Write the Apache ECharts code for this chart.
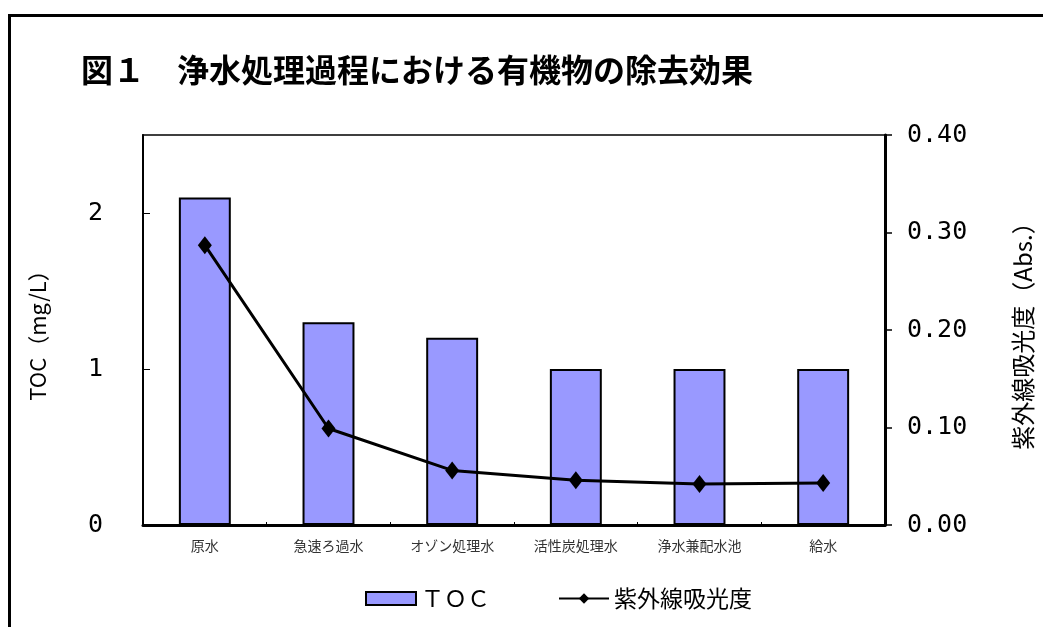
<!DOCTYPE html>
<html>
<head>
<meta charset="utf-8">
<script src="https://cdn.jsdelivr.net/npm/echarts@6/dist/echarts.min.js"></script>
<style>html,body{margin:0;padding:0;background:#fff;}#c{width:1043px;height:627px;}</style>
</head>
<body>
<div id="c"></div>
<script>
const categories = ['原水', '急速ろ過水', 'オゾン処理水', '活性炭処理水', '浄水兼配水池', '給水'];
const tocValues = [2.1, 1.3, 1.2, 1.0, 1.0, 1.0];
const uvValues = [0.287, 0.099, 0.056, 0.046, 0.042, 0.043];
const titleText = '図１　浄水処理過程における有機物の除去効果';
const leftAxisName = 'TOC（mg/L）';
const rightAxisName = '紫外線吸光度（Abs.）';
const tocName = 'ＴＯＣ';
const uvName = '紫外線吸光度';

const chart = echarts.init(document.getElementById('c'), null, {renderer: 'canvas'});
const jp = '"Noto Sans CJK JP", sans-serif';
chart.setOption({
  animation: false,
  backgroundColor: '#fff',
  title: {
    text: titleText, left: 76, top: 49,
    textStyle: {fontFamily: jp, fontSize: 32, fontWeight: 'bold', color: '#000'}
  },
  graphic: [{
    type: 'rect', left: 7, top: 13, z: 100, silent: true,
    shape: {width: 1100, height: 700},
    style: {fill: 'none', stroke: '#000', lineWidth: 3}
  }],
  legend: {
    left: 360, top: 582, itemGap: 68, itemWidth: 50, itemHeight: 13,
    textStyle: {fontFamily: jp, fontSize: 23, color: '#000'},
    data: [
      {name: tocName, icon: 'rect', itemStyle: {borderColor: '#000', borderWidth: 2}},
      {name: uvName}
    ]
  },
  grid: {left: 143, right: 151, top: 135, bottom: 102, show: true, borderColor: '#000', borderWidth: 1.5, containLabel: false},
  xAxis: {
    type: 'category', data: categories,
    axisLine: {lineStyle: {color: '#000', width: 3}},
    axisTick: {show: true, inside: true, length: 3, lineStyle: {color: '#000', width: 1}},
    axisLabel: {fontFamily: jp, fontSize: 14, color: '#333', margin: 14}
  },
  yAxis: [{
    type: 'value', min: 0, max: 2.5, interval: 1, position: 'left',
    name: leftAxisName, nameLocation: 'middle', nameRotate: 90, nameGap: 94,
    nameTextStyle: {fontFamily: jp, fontSize: 22, color: '#000'},
    axisLine: {show: true, lineStyle: {color: '#000', width: 2}},
    axisTick: {show: true, inside: true, length: 7, lineStyle: {color: '#000', width: 1}},
    axisLabel: {showMaxLabel: false, fontFamily: '"DejaVu Sans Mono", monospace', fontSize: 25, color: '#000', margin: 40},
    splitLine: {show: false}
  }, {
    type: 'value', min: 0, max: 0.4, interval: 0.1, position: 'right',
    name: rightAxisName, nameLocation: 'middle', nameRotate: 90, nameGap: 126,
    nameTextStyle: {fontFamily: jp, fontSize: 24, color: '#000'},
    axisLine: {show: true, lineStyle: {color: '#000', width: 3}},
    axisTick: {show: true, inside: false, length: 7, lineStyle: {color: '#000', width: 1.5}},
    axisLabel: {formatter: v => v.toFixed(2), fontFamily: '"DejaVu Sans Mono", monospace', fontSize: 25, color: '#000', margin: 22},
    splitLine: {show: false}
  }],
  series: [{
    name: tocName, type: 'bar', yAxisIndex: 0, data: tocValues, barWidth: '42%',
    itemStyle: {color: '#9999FF', borderColor: '#000', borderWidth: 2}
  }, {
    name: uvName, type: 'line', yAxisIndex: 1, data: uvValues,
    symbol: 'diamond', symbolSize: [14, 18], showSymbol: true,
    lineStyle: {color: '#000', width: 3},
    itemStyle: {color: '#000'}
  }]
});
</script>
</body>
</html>
